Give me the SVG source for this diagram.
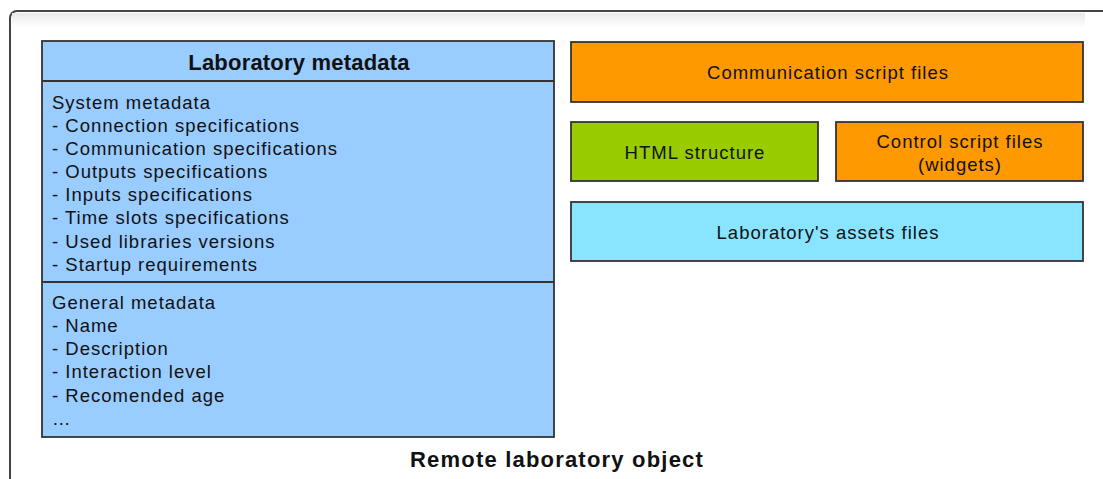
<svg xmlns="http://www.w3.org/2000/svg" width="1103" height="479" viewBox="0 0 1103 479">
<style>
.t{font-family:"Liberation Sans",Arial,sans-serif;font-size:18.5px;letter-spacing:1px;fill:#111}
.b{font-weight:bold;font-size:22px}
.c{text-anchor:middle}
.box{stroke:#333;stroke-width:1.8}
</style>
<defs>
<linearGradient id="sh" x1="0" y1="0" x2="0" y2="1">
<stop offset="0" stop-color="#e8e8e8"/>
<stop offset="1" stop-color="#fff"/>
</linearGradient>
</defs>
<rect x="0" y="0" width="1103" height="479" fill="#fff"/>
<g id="frame">
<rect x="10" y="11" width="1120" height="500" rx="7" fill="#fff" stroke="#444" stroke-width="2"/>
<rect x="12" y="13" width="1073" height="14" fill="url(#sh)"/>
<text class="t b c" x="557" y="467" style="letter-spacing:1.2px">Remote laboratory object</text>
</g>
<g id="metadata">
<rect class="box" x="42" y="41" width="512" height="396" fill="#99CCFF"/>
<line class="box" x1="42" y1="81" x2="554" y2="81"/>
<line class="box" x1="42" y1="282" x2="554" y2="282"/>
<text class="t b c" x="299" y="70" style="letter-spacing:0.2px">Laboratory metadata</text>
<text class="t" x="52" y="109">System metadata</text>
<text class="t" x="52" y="132">- Connection specifications</text>
<text class="t" x="52" y="155">- Communication specifications</text>
<text class="t" x="52" y="178">- Outputs specifications</text>
<text class="t" x="52" y="201">- Inputs specifications</text>
<text class="t" x="52" y="224">- Time slots specifications</text>
<text class="t" x="52" y="248">- Used libraries versions</text>
<text class="t" x="52" y="271">- Startup requirements</text>
<text class="t" x="52" y="309">General metadata</text>
<text class="t" x="52" y="332">- Name</text>
<text class="t" x="52" y="355">- Description</text>
<text class="t" x="52" y="378">- Interaction level</text>
<text class="t" x="52" y="402">- Recomended age</text>
<text class="t" x="52" y="425">…</text>
</g>
<g id="comm">
<rect class="box" x="571" y="42" width="512" height="60" fill="#FF9900"/>
<text class="t c" x="828" y="79">Communication script files</text>
</g>
<g id="html">
<rect class="box" x="571" y="122" width="247" height="59" fill="#99CC00"/>
<text class="t c" x="695" y="159">HTML structure</text>
</g>
<g id="control">
<rect class="box" x="836" y="122" width="247" height="59" fill="#FF9900"/>
<text class="t c" x="960" y="148">Control script files</text>
<text class="t c" x="960" y="171">(widgets)</text>
</g>
<g id="assets">
<rect class="box" x="571" y="202" width="512" height="59" fill="#88E4FF"/>
<text class="t c" x="828" y="239">Laboratory's assets files</text>
</g>
<g id="connectors"></g>
</svg>
